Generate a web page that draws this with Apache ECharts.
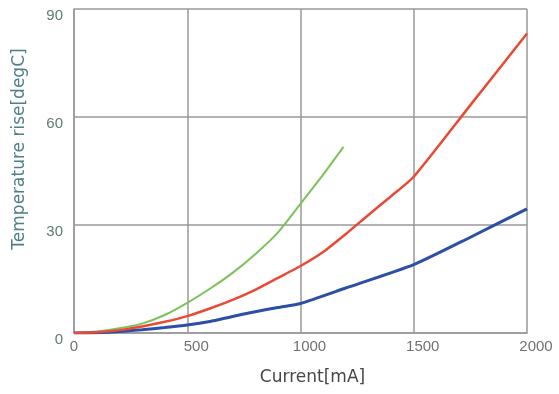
<!DOCTYPE html>
<html>
<head>
<meta charset="utf-8">
<script src="https://cdn.jsdelivr.net/npm/echarts@6/dist/echarts.min.js"></script>
<style>html,body{margin:0;padding:0;background:#fff;}#c{width:559px;height:394px;}</style>
</head>
<body>
<div id="c"></div>
<script>
const xTicks = [0, 500, 1000, 1500, 2000];
const yTicks = [0, 30, 60, 90];

const blueX = [0, 100, 200, 300, 400, 500, 600, 700, 800, 900, 1000, 1200, 1500, 1750, 2000];
const blueY = [0, 0.1, 0.4, 0.9, 1.5, 2.2, 3.2, 4.6, 5.9, 7.1, 8.2, 12.5, 19.0, 26.6, 34.5];

const redX = [0, 100, 200, 300, 400, 500, 600, 700, 800, 900, 1000, 1100, 1200, 1300, 1400, 1500, 1750, 2000];
const redY = [0, 0.2, 0.8, 1.8, 3.1, 4.7, 6.8, 9.2, 12.0, 15.3, 18.6, 22.5, 27.5, 32.8, 38.0, 43.4, 63.3, 83.2];

const greenX = [0, 100, 200, 300, 400, 500, 600, 700, 800, 900, 1000, 1100, 1190];
const greenY = [0, 0.4, 1.3, 2.6, 5.0, 8.4, 12.3, 16.7, 21.9, 27.9, 35.9, 44.0, 51.7];

function pairs(xs, ys) { return xs.map((x, i) => [x, ys[i]]); }

const chart = echarts.init(document.getElementById('c'), null, {renderer: 'canvas'});
const gridColor = '#999999';
const font = 'Liberation Sans, Arial, sans-serif';
chart.setOption({
  animation: false,
  backgroundColor: '#ffffff',
  grid: {left: 74, right: 32, top: 9, bottom: 61, containLabel: false},
  xAxis: {
    type: 'value',
    min: xTicks[0], max: xTicks[xTicks.length - 1], interval: 500,
    name: 'Current[mA]',
    nameLocation: 'middle',
    nameGap: 36,
    nameTextStyle: {color: '#474747', fontSize: 17, fontFamily: 'DejaVu Sans, sans-serif', padding: [0, 0, 0, 24]},
    axisLine: {show: true, lineStyle: {color: gridColor, width: 1.5}},
    axisTick: {show: false},
    splitLine: {show: true, lineStyle: {color: gridColor, width: 1.5}},
    axisLabel: {
      margin: 6,
      color: '#707070',
      fontSize: 15,
      fontFamily: font,
      formatter: function (v) { return v === 0 ? '{z|0}' : '{n|' + v + '}'; },
      rich: {
        z: {color: '#707070', fontSize: 15, fontFamily: font},
        n: {color: '#707070', fontSize: 15, fontFamily: font, padding: [0, 0, 0, 18]}
      }
    }
  },
  yAxis: {
    type: 'value',
    min: yTicks[0], max: yTicks[yTicks.length - 1], interval: 30,
    name: 'Temperature rise[degC]',
    nameLocation: 'middle',
    nameGap: 46,
    nameTextStyle: {color: '#4f7f88', fontSize: 17, fontFamily: 'DejaVu Sans, sans-serif', padding: [0, 0, 0, 44]},
    axisLine: {show: true, lineStyle: {color: gridColor, width: 1.5}},
    axisTick: {show: false},
    splitLine: {show: true, lineStyle: {color: gridColor, width: 1.5}},
    axisLabel: {
      margin: 11,
      color: '#5f7a72',
      fontSize: 15,
      fontFamily: font,
      verticalAlign: 'top',
      lineHeight: 14
    }
  },
  series: [
    {type: 'line', data: pairs(blueX, blueY), showSymbol: false, smooth: 0.2,
     lineStyle: {color: '#2b4fa5', width: 3}, z: 3},
    {type: 'line', data: pairs(redX, redY), showSymbol: false, smooth: 0.2,
     lineStyle: {color: '#e94a35', width: 2.5}, z: 4},
    {type: 'line', data: pairs(greenX, greenY), showSymbol: false, smooth: 0.2,
     lineStyle: {color: '#7cc25a', width: 2}, z: 2}
  ]
});
</script>
</body>
</html>
